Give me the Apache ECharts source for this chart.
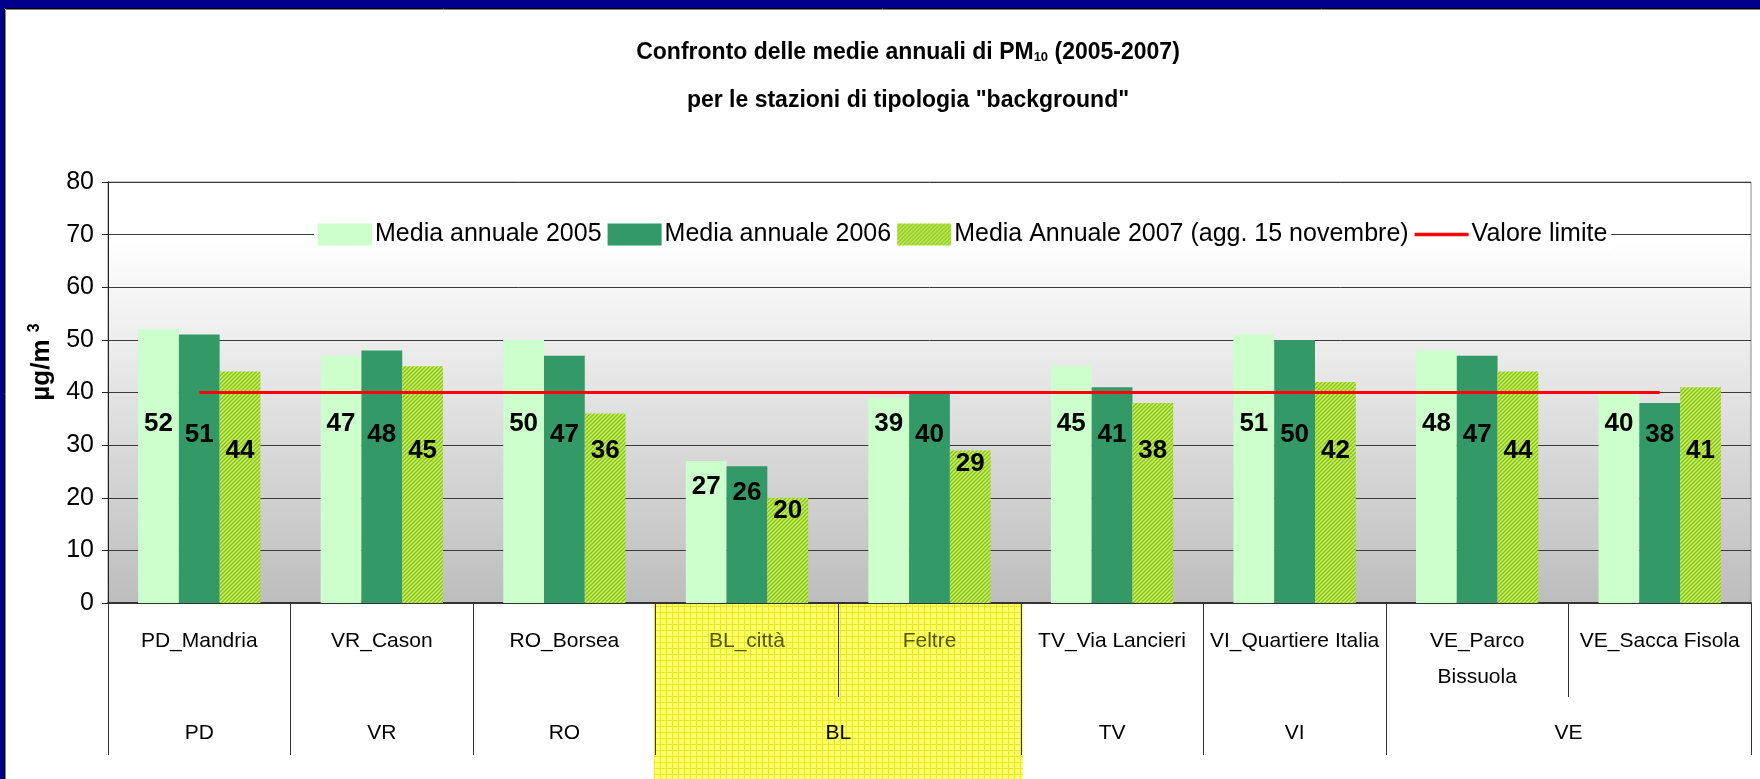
<!DOCTYPE html>
<html>
<head>
<meta charset="utf-8">
<script src="https://cdn.jsdelivr.net/npm/echarts@6/dist/echarts.min.js"></script>
<style>
html,body{margin:0;padding:0;background:#fff;}
#chart{width:1760px;height:779px;}
</style>
</head>
<body>
<div id="chart"></div>
<script>
// ---- data ----
const stations = ['PD_Mandria','VR_Cason','RO_Borsea','BL_città','Feltre','TV_Via Lancieri','VI_Quartiere Italia','VE_Parco\nBissuola','VE_Sacca Fisola'];
const stationGroup = ['PD','VR','RO','BL','BL','TV','VI','VE','VE'];
const groups = ['PD','VR','RO','BL','TV','VI','VE'];
const highlightGroup = 'BL';
const media2005 = [52,47,50,27,39,45,51,48,40];
const media2006 = [51,48,47,26,40,41,50,47,38];
const media2007 = [44,45,36,20,29,38,42,44,41];
const valoreLimite = [40,40,40,40,40,40,40,40,40];
const seriesNames = ['Media annuale 2005','Media annuale 2006','Media Annuale 2007 (agg. 15 novembre)','Valore limite'];
const yTicks = [0,10,20,30,40,50,60,70,80];

// ---- layout / style ----
const FONT = "'Liberation Sans Narrow','Arial Narrow','Liberation Sans',Arial,sans-serif";
const GRID = {left:108, right:9, top:182, bottom:176};
const H = 779;
const yMax = yTicks[yTicks.length-1];
const pxPerUnit = (H - GRID.top - GRID.bottom) / yMax;

function makeHatch(){
  const c = document.createElement('canvas'); c.width = 4; c.height = 4;
  const g = c.getContext('2d');
  g.fillStyle = '#c8f060'; g.fillRect(0,0,4,4);
  g.strokeStyle = '#86c21c'; g.lineWidth = 1.3;
  g.beginPath();
  g.moveTo(-1,5); g.lineTo(5,-1);
  g.moveTo(-1,1); g.lineTo(1,-1);
  g.moveTo(3,5); g.lineTo(5,3);
  g.stroke();
  return c;
}
function makeYellow(){
  const c = document.createElement('canvas'); c.width = 6; c.height = 6;
  const g = c.getContext('2d');
  g.fillStyle = '#ffff66'; g.fillRect(0,0,6,6);
  g.fillStyle = '#e8e828'; g.fillRect(0,0,6,1); g.fillRect(0,0,1,6);
  return c;
}
const hatch = {image: makeHatch(), repeat: 'repeat'};
const yellow = {image: makeYellow(), repeat: 'repeat'};

// label placement rule (inside bars, near the middle band)
const labelCap = [34, 32, 29];
const labelDrop = [5, 5, 2.5];
function barData(vals, si){
  return vals.map(v => {
    const target = Math.min(v - labelDrop[si], labelCap[si]);
    return {value: v, label: {position: ['50%', (v - target) * pxPerUnit], align: 'center', verticalAlign: 'middle'}};
  });
}

// group boundaries / centers on a 0..N value axis
const groupBounds = [0];
const groupCenters = [];
groups.forEach(gname => {
  const first = stationGroup.indexOf(gname);
  const last = stationGroup.lastIndexOf(gname);
  groupBounds.push(last + 1);
  groupCenters.push((first + last + 1) / 2);
});
const hlFirst = stationGroup.indexOf(highlightGroup);
const hlLast = stationGroup.lastIndexOf(highlightGroup) + 1;

const OLIVE = '#57570a';
const labelStyle = {show: true, fontFamily: FONT, fontWeight: 'bold', fontSize: 26, color: '#000'};

const chart = echarts.init(document.getElementById('chart'), null, {renderer: 'canvas'});
const option = {
  backgroundColor: '#ffffff',
  animation: false,
  title: {
    left: 903, top: 24, textAlign: 'center',
    text: 'Confronto delle medie annuali di PM{sub|10} (2005-2007)\nper le stazioni di tipologia "background"',
    textStyle: {
      fontFamily: FONT, fontWeight: 'bold', fontSize: 23, color: '#000', lineHeight: 48,
      rich: {sub: {fontFamily: FONT, fontWeight: 'bold', fontSize: 13, color: '#000', verticalAlign: 'bottom', lineHeight: 48, padding: [0,0,13,0]}}
    }
  },
  legend: {
    left: 314, top: 218,
    itemWidth: 54, itemHeight: 22, itemGap: 6,
    padding: [4, 4],
    backgroundColor: '#ffffff',
    textStyle: {fontFamily: FONT, fontSize: 25, color: '#000', padding: [0,0,0,-2]},
    data: [
      {name: seriesNames[0], icon: 'rect'},
      {name: seriesNames[1], icon: 'rect'},
      {name: seriesNames[2], icon: 'rect'},
      {name: seriesNames[3], icon: 'path://M0,0H54V3.6H0Z', itemStyle: {color: '#ff0000'}}
    ]
  },
  grid: {
    left: GRID.left, right: GRID.right, top: GRID.top, bottom: GRID.bottom,
    show: true, borderColor: '#8a8a8a', borderWidth: 1,
    backgroundColor: new echarts.graphic.LinearGradient(0,0,0,1,[
      {offset: 0, color: '#ffffff'}, {offset: 0.14, color: '#ffffff'}, {offset: 1, color: '#bdbdbd'}
    ])
  },
  xAxis: [{
    type: 'category', data: stations, position: 'bottom',
    axisLine: {lineStyle: {color: '#333', width: 2}},
    axisTick: {show: true, interval: 0, length: 94, lineStyle: {color: '#333', width: 1}},
    axisLabel: {interval: 0, margin: 20, fontFamily: FONT, fontSize: 21, lineHeight: 36,
      color: (v, i) => stationGroup[i] === highlightGroup ? OLIVE : '#000'}
  }, {
    type: 'value', min: 0, max: stations.length, position: 'bottom',
    axisLine: {show: false}, splitLine: {show: false},
    axisTick: {show: true, customValues: groupBounds, length: 152, lineStyle: {color: '#333', width: 1}},
    axisLabel: {show: true, customValues: groupCenters, margin: 112, fontFamily: FONT, fontSize: 21, lineHeight: 36,
      formatter: v => groups[groupCenters.indexOf(v)],
      color: v => groups[groupCenters.indexOf(v)] === highlightGroup ? OLIVE : '#000'}
  }],
  yAxis: {
    type: 'value', min: 0, max: yMax, interval: 10,
    axisLine: {show: true, lineStyle: {color: '#222', width: 1}},
    axisTick: {show: true, length: 6, lineStyle: {color: '#222'}},
    axisLabel: {margin: 14, fontFamily: FONT, fontSize: 25, color: '#000'},
    splitLine: {lineStyle: {color: '#3a3a3a', width: 1}}
  },
  graphic: [
    {type: 'rect', z: 100, shape: {x: 0, y: 0, width: 1760, height: 8}, style: {fill: '#00008c'}},
    {type: 'rect', z: 100, shape: {x: 0, y: 0, width: 4, height: 779}, style: {fill: '#00008c'}},
    {type: 'polyline', z: 100, shape: {points: [[4.5, 779], [4.5, 8.5], [1760, 8.5]]}, style: {stroke: '#000', lineWidth: 1, fill: null}},
    {type: 'polyline', z: 100, shape: {points: [[5.5, 779], [5.5, 9.5], [1760, 9.5]]}, style: {stroke: '#888', lineWidth: 1, fill: null}},
    {type: 'text', z: 50, x: 42, y: 362, rotation: Math.PI / 2,
      style: {text: '{a|µg/m }{s|3}', align: 'center', verticalAlign: 'middle',
        rich: {a: {fontFamily: FONT, fontWeight: 'bold', fontSize: 26, color: '#000', lineHeight: 30},
               s: {fontFamily: FONT, fontWeight: 'bold', fontSize: 16, color: '#000', verticalAlign: 'top', lineHeight: 30}}}}
  ],
  series: [
    {name: seriesNames[0], type: 'bar', data: barData(media2005, 0), barGap: '0%', barCategoryGap: '33%',
      itemStyle: {color: '#ccffcc'}, label: labelStyle},
    {name: seriesNames[1], type: 'bar', data: barData(media2006, 1), barGap: '0%', barCategoryGap: '33%',
      itemStyle: {color: '#339966'}, label: labelStyle},
    {name: seriesNames[2], type: 'bar', data: barData(media2007, 2), barGap: '0%', barCategoryGap: '33%',
      itemStyle: {color: hatch}, label: labelStyle},
    {name: seriesNames[3], type: 'line', data: valoreLimite, symbol: 'none', z: 3,
      lineStyle: {color: '#ff0000', width: 3}, itemStyle: {color: '#ff0000'}}
  ]
};
chart.setOption(option);

// yellow highlight band behind the highlighted group's labels
const x0 = chart.convertToPixel({xAxisIndex: 1}, hlFirst);
const x1 = chart.convertToPixel({xAxisIndex: 1}, hlLast);
const yAxisPx = chart.convertToPixel({yAxisIndex: 0}, 0);
const g = option.graphic.slice();
g.push({type: 'rect', z: -10, shape: {x: x0 - 2, y: yAxisPx + 1, width: x1 - x0 + 4, height: H - yAxisPx}, style: {fill: yellow}});
chart.setOption({graphic: g}, {replaceMerge: ['graphic']});
</script>
</body>
</html>
